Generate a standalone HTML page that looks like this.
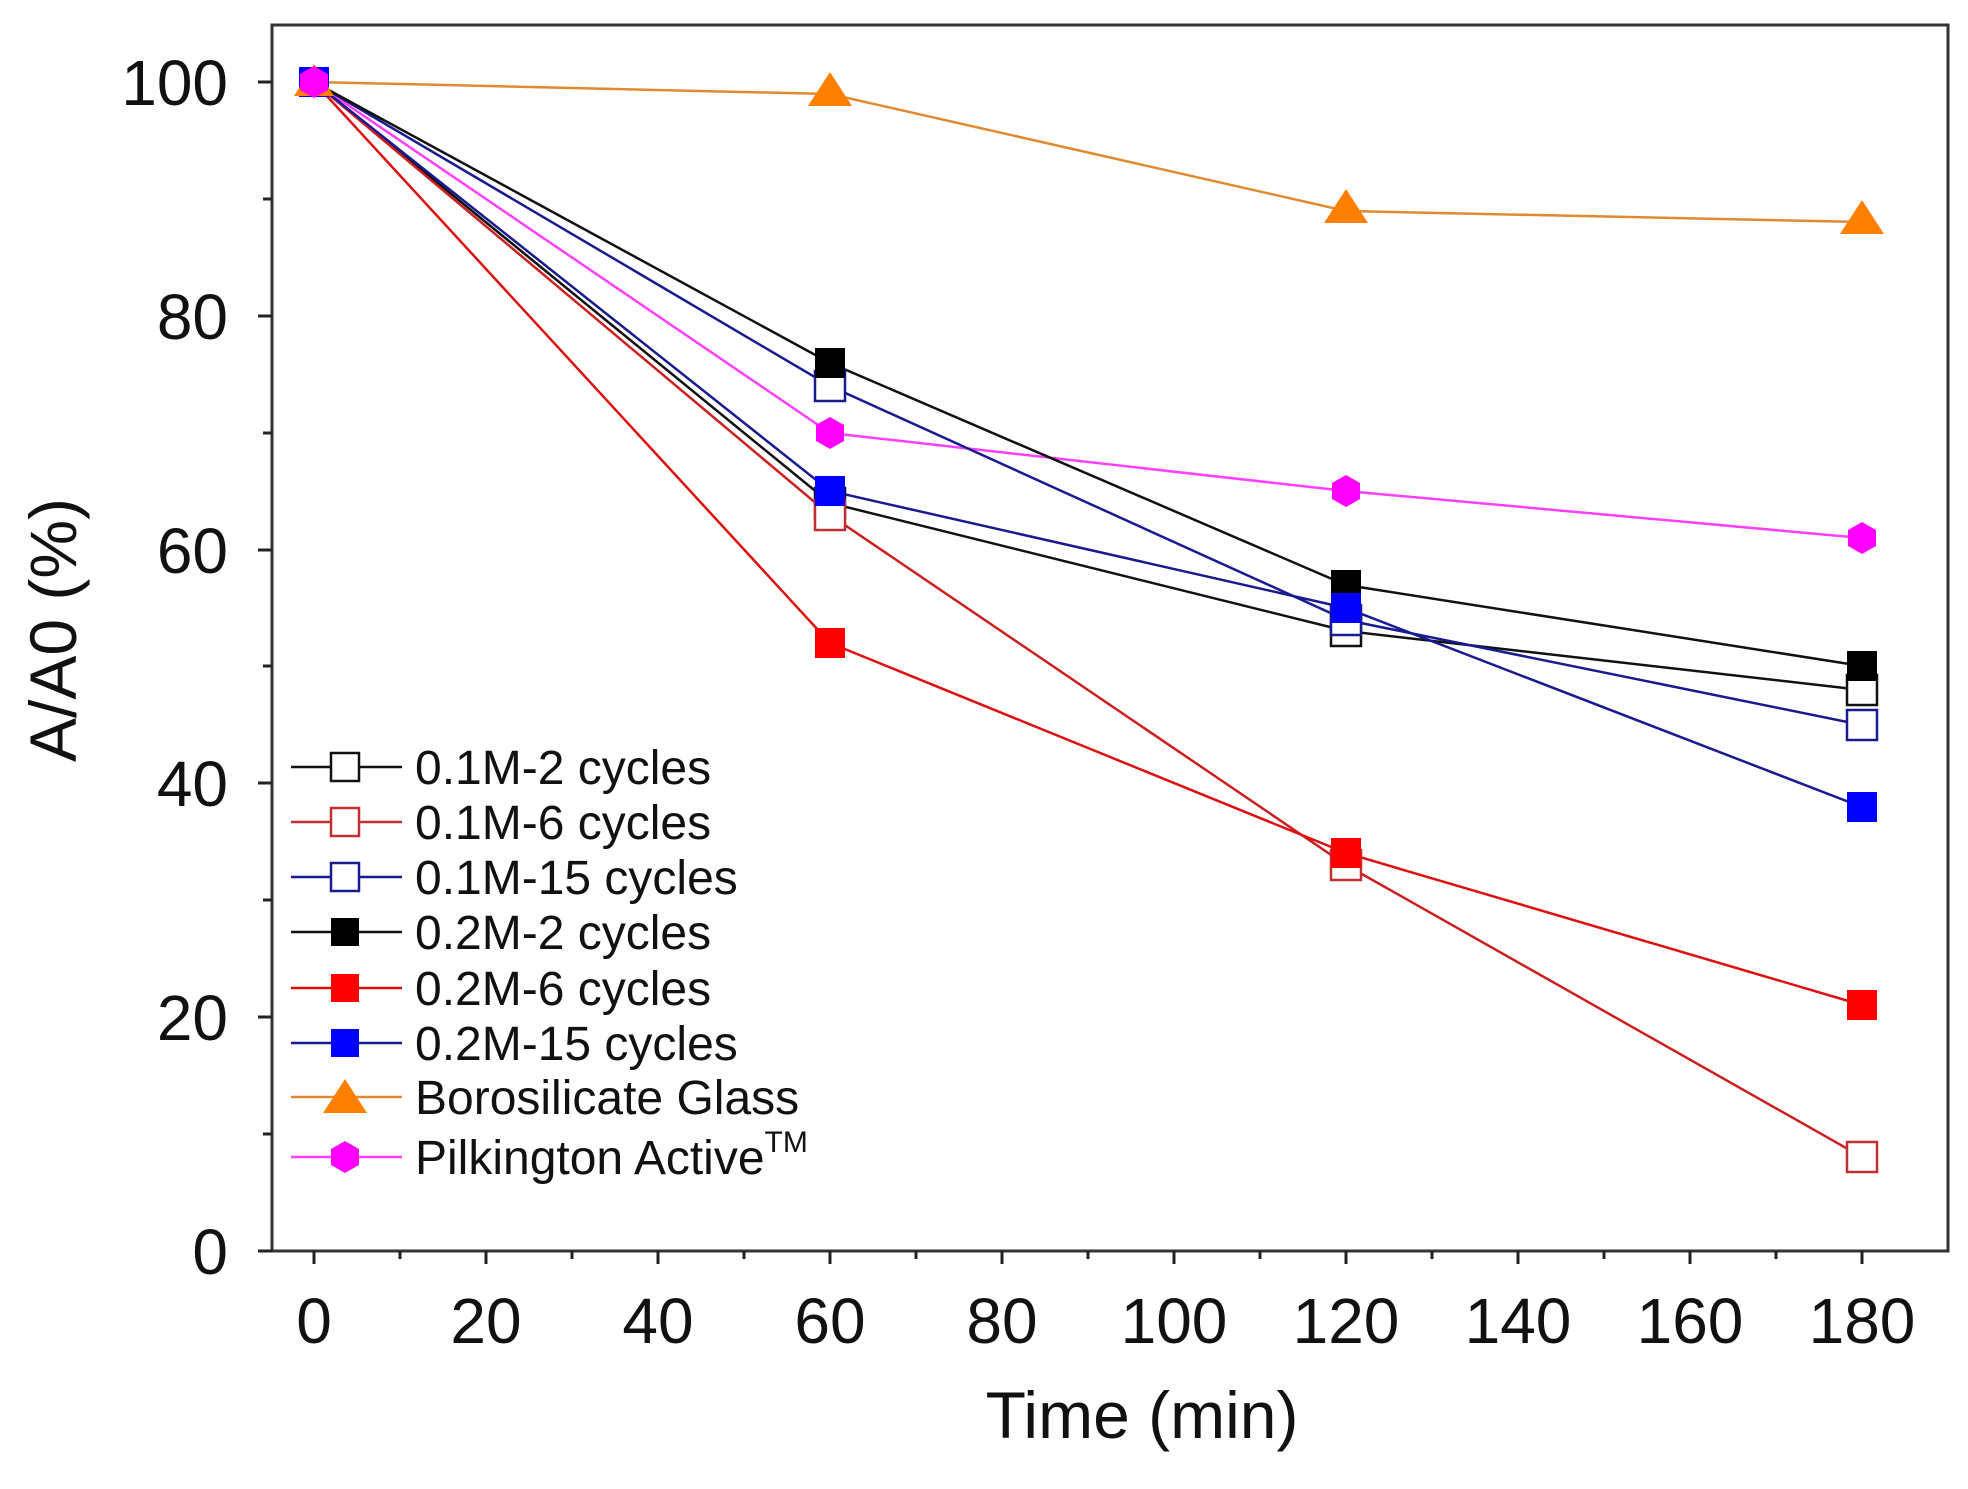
<!DOCTYPE html>
<html><head><style>html,body{margin:0;padding:0;background:#fff}</style></head><body>
<svg width="1968" height="1484" viewBox="0 0 1968 1484" xmlns="http://www.w3.org/2000/svg" font-family="Liberation Sans, sans-serif">
<rect x="0" y="0" width="1968" height="1484" fill="#fff"/>
<rect x="272" y="25" width="1676" height="1226" fill="none" stroke="#333" stroke-width="3"/>
<g stroke="#222" stroke-width="3">
<line x1="314" y1="1251" x2="314" y2="1264"/><line x1="400" y1="1251" x2="400" y2="1259"/>
<line x1="486" y1="1251" x2="486" y2="1264"/><line x1="572" y1="1251" x2="572" y2="1259"/>
<line x1="658" y1="1251" x2="658" y2="1264"/><line x1="744" y1="1251" x2="744" y2="1259"/>
<line x1="830" y1="1251" x2="830" y2="1264"/><line x1="916" y1="1251" x2="916" y2="1259"/>
<line x1="1002" y1="1251" x2="1002" y2="1264"/><line x1="1088" y1="1251" x2="1088" y2="1259"/>
<line x1="1174" y1="1251" x2="1174" y2="1264"/><line x1="1260" y1="1251" x2="1260" y2="1259"/>
<line x1="1346" y1="1251" x2="1346" y2="1264"/><line x1="1432" y1="1251" x2="1432" y2="1259"/>
<line x1="1518" y1="1251" x2="1518" y2="1264"/><line x1="1604" y1="1251" x2="1604" y2="1259"/>
<line x1="1690" y1="1251" x2="1690" y2="1264"/><line x1="1776" y1="1251" x2="1776" y2="1259"/>
<line x1="1862" y1="1251" x2="1862" y2="1264"/>
<line x1="258" y1="1251" x2="272" y2="1251"/><line x1="263" y1="1134" x2="272" y2="1134"/>
<line x1="258" y1="1017" x2="272" y2="1017"/><line x1="263" y1="900" x2="272" y2="900"/>
<line x1="258" y1="783" x2="272" y2="783"/><line x1="263" y1="666" x2="272" y2="666"/>
<line x1="258" y1="550" x2="272" y2="550"/><line x1="263" y1="433" x2="272" y2="433"/>
<line x1="258" y1="316" x2="272" y2="316"/><line x1="263" y1="199" x2="272" y2="199"/>
<line x1="258" y1="82" x2="272" y2="82"/>
</g>
<g font-size="64" fill="#111" text-anchor="middle">
<text x="314" y="1343">0</text><text x="486" y="1343">20</text><text x="658" y="1343">40</text>
<text x="830" y="1343">60</text><text x="1002" y="1343">80</text><text x="1174" y="1343">100</text>
<text x="1346" y="1343">120</text><text x="1518" y="1343">140</text><text x="1690" y="1343">160</text>
<text x="1862" y="1343">180</text>
</g>
<g font-size="64" fill="#111" text-anchor="end">
<text x="228" y="1274">0</text><text x="228" y="1040">20</text><text x="228" y="806">40</text>
<text x="228" y="573">60</text><text x="228" y="339">80</text><text x="228" y="105">100</text>
</g>
<text x="1142" y="1438" font-size="66" text-anchor="middle" fill="#111">Time (min)</text>
<text transform="translate(76,630) rotate(-90)" font-size="66" text-anchor="middle" fill="#111">A/A0 (%)</text>

<g fill="none" stroke-width="2.5">
<polyline stroke="#e08a30" points="314,82 830,94 1346,211 1862,222"/>
<polyline stroke="#ff40ff" points="314,82 830,433 1346,491 1862,538"/>
<polyline stroke="#111" points="314,82 830,503 1346,631 1862,690"/>
<polyline stroke="#cc2020" points="314,82 830,515 1346,865 1862,1157"/>
<polyline stroke="#1a1a90" points="314,82 830,386 1346,620 1862,725"/>
<polyline stroke="#111" points="314,82 830,363 1346,585 1862,666"/>
<polyline stroke="#dd1010" points="314,82 830,643 1346,853 1862,1005"/>
<polyline stroke="#1a1a90" points="314,82 830,491 1346,608 1862,807"/>
</g>
<g>
<rect x="299" y="67" width="30" height="30" fill="#0000ff"/>
<rect x="815" y="488" width="30" height="30" fill="#fff" stroke="#111" stroke-width="2.5"/>
<rect x="1331" y="616" width="30" height="30" fill="#fff" stroke="#111" stroke-width="2.5"/>
<rect x="1847" y="675" width="30" height="30" fill="#fff" stroke="#111" stroke-width="2.5"/>
<rect x="815" y="500" width="30" height="30" fill="#fff" stroke="#c03030" stroke-width="2.5"/>
<rect x="1331" y="850" width="30" height="30" fill="#fff" stroke="#c03030" stroke-width="2.5"/>
<rect x="1847" y="1142" width="30" height="30" fill="#fff" stroke="#c03030" stroke-width="2.5"/>
<rect x="815" y="371" width="30" height="30" fill="#fff" stroke="#1a1a90" stroke-width="2.5"/>
<rect x="1331" y="605" width="30" height="30" fill="#fff" stroke="#1a1a90" stroke-width="2.5"/>
<rect x="1847" y="710" width="30" height="30" fill="#fff" stroke="#1a1a90" stroke-width="2.5"/>
<rect x="815" y="348" width="30" height="30" fill="#000"/>
<rect x="1331" y="570" width="30" height="30" fill="#000"/>
<rect x="1847" y="651" width="30" height="30" fill="#000"/>
<rect x="815" y="628" width="30" height="30" fill="#ff0000"/>
<rect x="1331" y="838" width="30" height="30" fill="#ff0000"/>
<rect x="1847" y="990" width="30" height="30" fill="#ff0000"/>
<rect x="815" y="476" width="30" height="30" fill="#0000ff"/>
<rect x="1331" y="593" width="30" height="30" fill="#0000ff"/>
<rect x="1847" y="792" width="30" height="30" fill="#0000ff"/>
<polygon points="314,64 334,96 294,96" fill="#ff8000"/>
<polygon points="830,72 852,106 808,106" fill="#ff8000"/>
<polygon points="1346,189 1368,223 1324,223" fill="#ff8000"/>
<polygon points="1862,200 1884,234 1840,234" fill="#ff8000"/>
<g fill="#ff00ff">
<polygon points="314,66 328,74 328,90 314,98 300,90 300,74"/>
<polygon points="830,417 844,425 844,441 830,449 816,441 816,425"/>
<polygon points="1346,475 1360,483 1360,499 1346,507 1332,499 1332,483"/>
<polygon points="1862,522 1876,530 1876,546 1862,554 1848,546 1848,530"/>
</g>
</g>
<g stroke-width="2.5">
<line x1="291" y1="767" x2="402" y2="767" stroke="#111"/>
<line x1="291" y1="822" x2="402" y2="822" stroke="#c03030"/>
<line x1="291" y1="877" x2="402" y2="877" stroke="#1a1a90"/>
<line x1="291" y1="932" x2="402" y2="932" stroke="#111"/>
<line x1="291" y1="988" x2="402" y2="988" stroke="#dd1010"/>
<line x1="291" y1="1043" x2="402" y2="1043" stroke="#1a1a90"/>
<line x1="291" y1="1097" x2="402" y2="1097" stroke="#e08a30"/>
<line x1="291" y1="1157" x2="402" y2="1157" stroke="#ff40ff"/>
</g>
<rect x="331" y="753" width="28" height="28" fill="#fff" stroke="#111" stroke-width="2.5"/>
<rect x="331" y="808" width="28" height="28" fill="#fff" stroke="#c03030" stroke-width="2.5"/>
<rect x="331" y="863" width="28" height="28" fill="#fff" stroke="#1a1a90" stroke-width="2.5"/>
<rect x="331" y="918" width="28" height="28" fill="#000"/>
<rect x="331" y="974" width="28" height="28" fill="#ff0000"/>
<rect x="331" y="1029" width="28" height="28" fill="#0000ff"/>
<polygon points="345,1079 367,1113 323,1113" fill="#ff8000"/>
<polygon points="345,1141 359,1149 359,1165 345,1173 331,1165 331,1149" fill="#ff00ff"/>
<g font-size="48" fill="#111">
<text x="415" y="784">0.1M-2 cycles</text>
<text x="415" y="839">0.1M-6 cycles</text>
<text x="415" y="894">0.1M-15 cycles</text>
<text x="415" y="949">0.2M-2 cycles</text>
<text x="415" y="1005">0.2M-6 cycles</text>
<text x="415" y="1060">0.2M-15 cycles</text>
<text x="415" y="1114">Borosilicate Glass</text>
<text x="415" y="1174">Pilkington Active<tspan font-size="30" dy="-22">TM</tspan></text>
</g>
</svg>
</body></html>
